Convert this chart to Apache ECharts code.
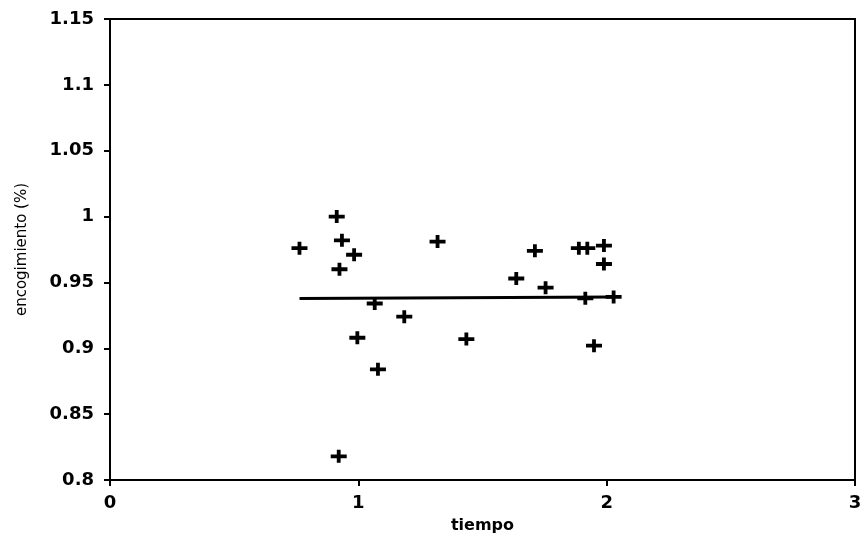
<!DOCTYPE html>
<html>
<head>
<meta charset="utf-8">
<script src="https://cdn.jsdelivr.net/npm/echarts@6/dist/echarts.min.js"></script>
<style>html,body{margin:0;padding:0;background:#fff;}#c{width:864px;height:537px;}</style>
</head>
<body>
<div id="c"></div>
<script>
var tiempo = [0.763, 0.913, 0.934, 0.983, 0.924, 1.319, 1.066, 1.185, 0.996, 1.079, 0.921, 1.435, 1.949, 1.711, 1.636, 1.754, 1.888, 1.922, 1.989, 1.989, 1.914, 2.028];
var encogimiento = [0.976, 1.000, 0.982, 0.971, 0.960, 0.981, 0.934, 0.924, 0.908, 0.884, 0.818, 0.907, 0.902, 0.974, 0.953, 0.946, 0.976, 0.976, 0.978, 0.964, 0.938, 0.939];
var fitX = [0.763, 2.028];
var fitY = [0.9378, 0.9390];

var pts = tiempo.map(function(t, i){ return [t, encogimiento[i]]; });
var fit = fitX.map(function(t, i){ return [t, fitY[i]]; });
var plus = 'path://M0,4.6H16V8.4H0Z M6.1,0H9.9V13H6.1Z';
var font = 'DejaVu Sans';

var chart = echarts.init(document.getElementById('c'), null, {renderer:'canvas'});
chart.setOption({
  animation: false,
  backgroundColor: '#fff',
  grid: {left:110, right:9, top:19, bottom:57, containLabel:false, outerBoundsMode:'none',
    show:true, borderColor:'#000', borderWidth:2, backgroundColor:'transparent'},
  xAxis: {
    type:'value', min:0, max:3, interval:1,
    name:'tiempo', nameLocation:'middle', nameGap:38,
    nameTextStyle:{color:'#000', fontFamily:font, fontSize:16, fontWeight:'bold'},
    axisLine:{show:true, lineStyle:{color:'#000', width:2}},
    axisTick:{show:true, length:6, lineStyle:{color:'#000', width:2}},
    axisLabel:{color:'#000', fontFamily:font, fontSize:18, fontWeight:'bold', margin:14},
    splitLine:{show:false}
  },
  yAxis: {
    type:'value', min:0.8, max:1.15, interval:0.05,
    name:'encogimiento (%)', nameLocation:'middle', nameGap:80,
    nameTextStyle:{color:'#000', fontFamily:font, fontSize:15},
    axisLine:{show:true, lineStyle:{color:'#000', width:2}},
    axisTick:{show:true, length:6, lineStyle:{color:'#000', width:2}},
    axisLabel:{color:'#000', fontFamily:font, fontSize:18, fontWeight:'bold', margin:16,
      formatter:function(v){ return String(+v.toFixed(2)); }},
    splitLine:{show:false}
  },
  series: [
    {type:'line', data:fit, symbol:'none', lineStyle:{color:'#000', width:3}, z:2},
    {type:'scatter', data:pts, symbol:plus, symbolSize:[16,13], itemStyle:{color:'#000', opacity:1}, z:3}
  ]
});
</script>
</body>
</html>
